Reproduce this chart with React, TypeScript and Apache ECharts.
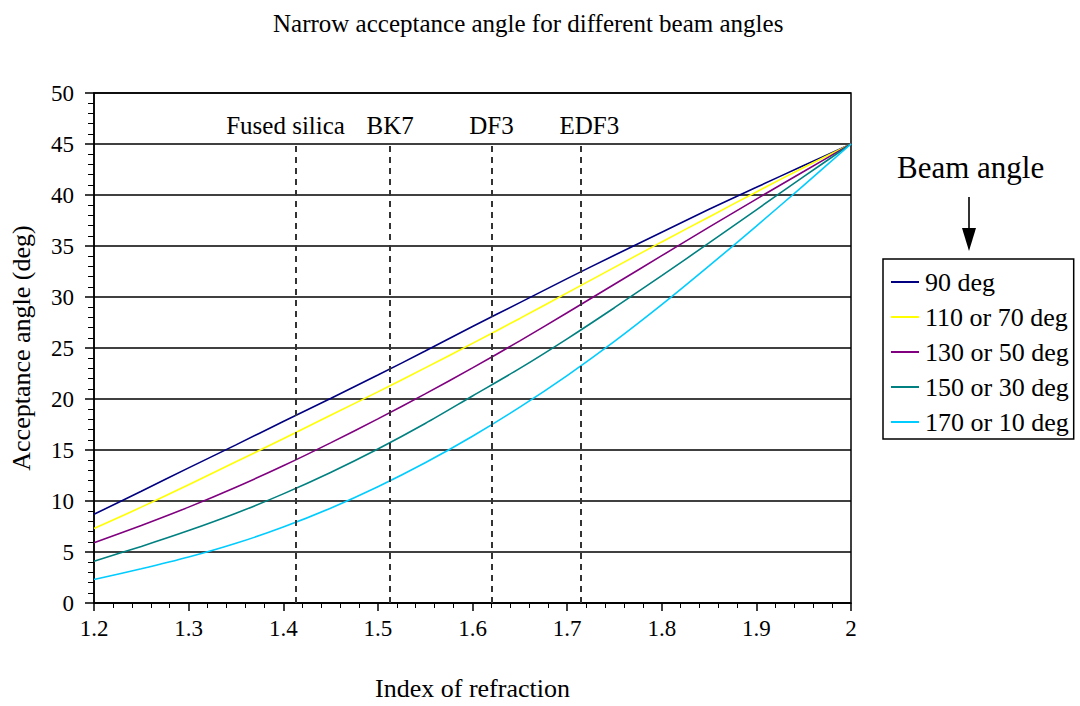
import React, { useEffect, useRef } from "react";
import * as echarts from "echarts";

// Index of refraction sample points
const refractiveIndex = [1.2, 1.25, 1.3, 1.35, 1.4, 1.45, 1.5, 1.55, 1.6, 1.65, 1.7, 1.75, 1.8, 1.85, 1.9, 1.95, 2.0];

// Acceptance angle (deg) for each beam angle
const beam90 = [8.7, 10.95, 13.25, 15.5, 17.8, 20.05, 22.35, 24.7, 27.1, 29.45, 31.8, 34.1, 36.35, 38.6, 40.75, 42.9, 45];
const beam110 = [7.3, 9.4, 11.6, 13.85, 16.1, 18.4, 20.7, 23.05, 25.45, 27.9, 30.4, 32.9, 35.4, 37.85, 40.3, 42.7, 45];
const beam130 = [5.9, 7.6, 9.4, 11.35, 13.45, 15.7, 18.05, 20.5, 23.05, 25.7, 28.45, 31.25, 34.05, 36.85, 39.6, 42.3, 45];
const beam150 = [4.1, 5.55, 7.1, 8.8, 10.7, 12.8, 15.1, 17.6, 20.3, 23.0, 25.9, 28.95, 32.1, 35.3, 38.55, 41.8, 45];
const beam170 = [2.3, 3.35, 4.5, 5.85, 7.45, 9.3, 11.4, 13.75, 16.35, 19.2, 22.3, 25.65, 29.25, 33.05, 36.95, 40.95, 45];

const seriesNames = ["90 deg", "110 or 70 deg", "130 or 50 deg", "150 or 30 deg", "170 or 10 deg"];
const seriesColors = ["#000080", "#FFFF00", "#800080", "#008080", "#00CCFF"];
const seriesValues = [beam90, beam110, beam130, beam150, beam170];

// Glass reference lines
const glassNames = ["Fused silica", "BK7", "DF3", "EDF3"];
const glassIndex = [1.413, 1.513, 1.62, 1.714];
const glassLineTop = 45;

const FONT = "Liberation Serif, Times New Roman, serif";

export default function App() {
  const ref = useRef<HTMLDivElement>(null);

  useEffect(() => {
    document.body.style.margin = "0";
    const chart = echarts.init(ref.current!, null, { renderer: "svg" });

    const lineSeries = seriesNames.map((name, i) => ({
      name,
      type: "line",
      smooth: 0.3,
      showSymbol: false,
      symbol: "none",
      lineStyle: { color: seriesColors[i], width: 1.6 },
      itemStyle: { color: seriesColors[i] },
      data: refractiveIndex.map((x, j) => [x, seriesValues[i][j]]),
      z: 3,
    }));

    const glassSeries = {
      name: "glass",
      type: "line",
      data: [],
      silent: true,
      markLine: {
        symbol: "none",
        silent: true,
        lineStyle: { color: "#333", type: [6, 5], width: 2 },
        data: glassNames.map((g, i) => [
          {
            coord: [glassIndex[i], 0],
            label: {
              show: true,
              position: "end",
              formatter: g,
              distance: 6,
              color: "#000",
              fontFamily: FONT,
              fontSize: 25,
              padding: i === 0 ? [0, 20, 0, 0] : i === 3 ? [0, 0, 0, 18] : 0,
            },
          },
          { coord: [glassIndex[i], glassLineTop] },
        ]),
      },
    };

    chart.setOption({
      animation: false,
      backgroundColor: "#fff",
      title: {
        text: "Narrow acceptance angle for different beam angles",
        left: 268,
        top: 6,
        textStyle: { fontFamily: FONT, fontSize: 25, fontWeight: "normal", color: "#000" },
      },
      grid: {
        left: 94,
        right: 229,
        top: 93,
        bottom: 99,
        show: true,
        borderColor: "#000",
        borderWidth: 1.5,
      },
      xAxis: {
        type: "value",
        min: 1.2,
        max: 2,
        interval: 0.1,
        name: "Index of refraction",
        nameLocation: "middle",
        nameGap: 72,
        nameTextStyle: { fontFamily: FONT, fontSize: 26, color: "#000" },
        axisLine: { show: true, lineStyle: { color: "#000", width: 1.5 } },
        axisTick: { show: true, length: 8, lineStyle: { color: "#000", width: 1.5 } },
        minorTick: { show: true, splitNumber: 5, length: 5, lineStyle: { color: "#000", width: 1 } },
        axisLabel: { fontFamily: FONT, fontSize: 23, color: "#000", margin: 14 },
        splitLine: { show: false },
      },
      yAxis: {
        type: "value",
        min: 0,
        max: 50,
        interval: 5,
        name: "Acceptance angle (deg)",
        nameLocation: "middle",
        nameGap: 60,
        nameTextStyle: { fontFamily: FONT, fontSize: 26, color: "#000" },
        axisLine: { show: true, lineStyle: { color: "#000", width: 1.5 } },
        axisTick: { show: true, length: 9, lineStyle: { color: "#000", width: 1.5 } },
        minorTick: { show: true, splitNumber: 5, length: 6, lineStyle: { color: "#000", width: 1 } },
        axisLabel: { fontFamily: FONT, fontSize: 23, color: "#000", margin: 20 },
        splitLine: { show: true, lineStyle: { color: "#000", width: 1.5 } },
      },
      legend: {
        data: seriesNames,
        orient: "vertical",
        left: 883,
        top: 259,
        icon: "rect",
        itemWidth: 28,
        itemHeight: 2,
        itemGap: 9,
        padding: [10, 5, 4, 8],
        borderColor: "#000",
        borderWidth: 1.5,
        backgroundColor: "#fff",
        selectedMode: false,
        textStyle: { fontFamily: FONT, fontSize: 26, lineHeight: 26, color: "#000", padding: [0, 0, 0, 1] },
      },
      graphic: [
        {
          type: "text",
          left: 897,
          top: 152,
          style: { text: "Beam angle", fontFamily: FONT, fontSize: 31, fill: "#000" },
        },
        {
          type: "line",
          shape: { x1: 969, y1: 197, x2: 969, y2: 230 },
          style: { stroke: "#333", lineWidth: 2 },
        },
        {
          type: "polygon",
          shape: { points: [[962, 228], [976, 228], [969, 251]] },
          style: { fill: "#000" },
        },
      ],
      series: [...lineSeries, glassSeries],
    });

    return () => chart.dispose();
  }, []);

  return <div ref={ref} style={{ width: 1080, height: 706 }} />;
}
